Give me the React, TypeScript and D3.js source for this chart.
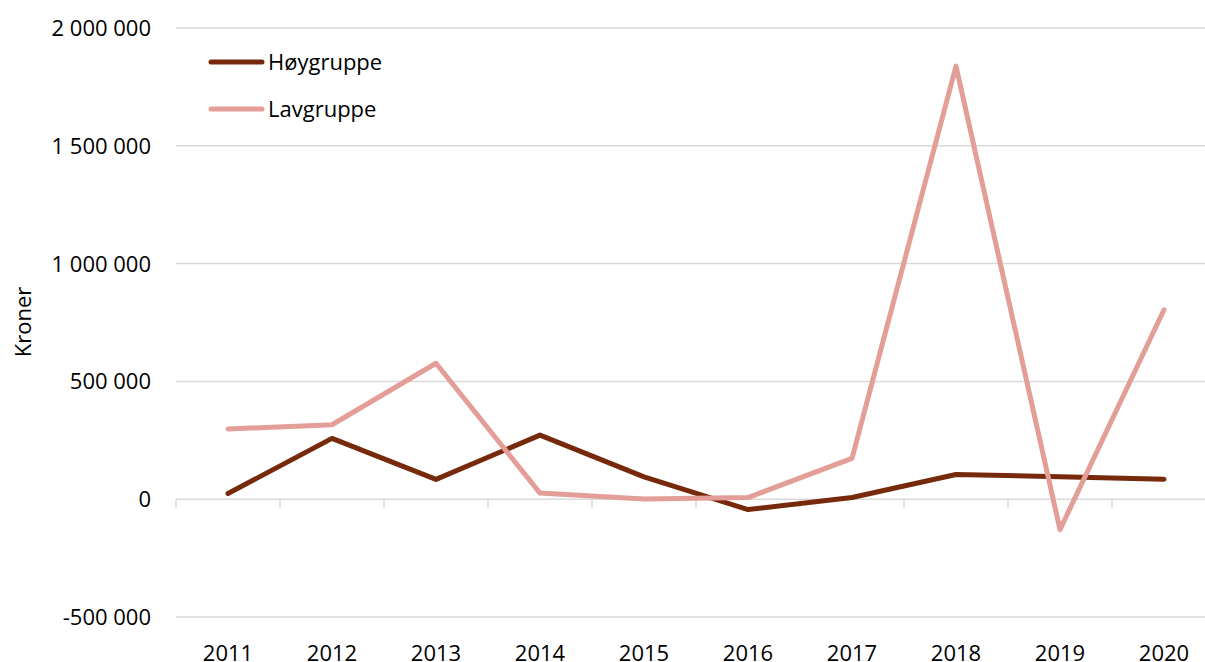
import React from "react";
import * as d3 from "d3";

const categories = ["2011","2012","2013","2014","2015","2016","2017","2018","2019","2020"];
const hoyValues = [24000, 258000, 84000, 272000, 95000, -44000, 7000, 105000, 95000, 85000];
const lavValues = [298000, 316000, 577000, 26000, 1000, 7000, 173000, 1838000, -129000, 804000];
const yTicks = [-500000, 0, 500000, 1000000, 1500000, 2000000];
const seriesNames = ["Høygruppe", "Lavgruppe"];
const colors = ["#772A0B", "#E39E98"];

const W = 1205, H = 662;
const left = 176, right = 1216, top = 28, bottom = 617;

const fmt = (v: number) => {
  const s = Math.abs(v).toString().replace(/\B(?=(\d{3})+(?!\d))/g, " ");
  return (v < 0 ? "-" : "") + s;
};

export default function App() {
  const x = d3.scaleBand<string>().domain(categories).range([left, right]);
  const y = d3.scaleLinear().domain([-500000, 2000000]).range([bottom, top]);
  const cx = (c: string) => (x(c) as number) + x.bandwidth() / 2;
  const line = d3.line<number>().x((_, i) => cx(categories[i])).y((v) => y(v));
  const series = [hoyValues, lavValues];
  const font = "'Open Sans', sans-serif";
  return (
    <svg width={W} height={H} style={{ position: "absolute", left: 0, top: 0, background: "#fff" }} fontFamily={font}>
      {yTicks.map((t) => (
        <g key={t}>
          {t !== 0 && <line x1={left} x2={right} y1={y(t)} y2={y(t)} stroke="#D9D9D9" strokeWidth={1.5} />}
          <text x={151} y={y(t)} dy="0.36em" textAnchor="end" fontSize={22} fill="#000">{fmt(t)}</text>
        </g>
      ))}
      <line x1={left} x2={right} y1={y(0)} y2={y(0)} stroke="#D9D9D9" strokeWidth={1.5} />
      {d3.range(categories.length + 1).map((i) => {
        const xx = left + i * x.bandwidth();
        return <line key={i} x1={xx} x2={xx} y1={y(0)} y2={y(0) + 8} stroke="#D9D9D9" strokeWidth={1.5} />;
      })}
      {categories.map((c) => (
        <text key={c} x={cx(c)} y={653} dy="0.36em" textAnchor="middle" fontSize={22} fill="#000">{c}</text>
      ))}
      <text transform={`translate(31,322) rotate(-90)`} textAnchor="middle" fontSize={22} fill="#000">Kroner</text>
      {series.map((s, i) => (
        <path key={i} d={line(s) || ""} fill="none" stroke={colors[i]} strokeWidth={5} strokeLinecap="round" strokeLinejoin="round" />
      ))}
      {seriesNames.map((n, i) => (
        <g key={n}>
          <line x1={211} x2={262} y1={62 + i * 47} y2={62 + i * 47} stroke={colors[i]} strokeWidth={5} strokeLinecap="round" />
          <text x={268} y={62 + i * 47} dy="0.36em" fontSize={22} fill="#000">{n}</text>
        </g>
      ))}
    </svg>
  );
}
